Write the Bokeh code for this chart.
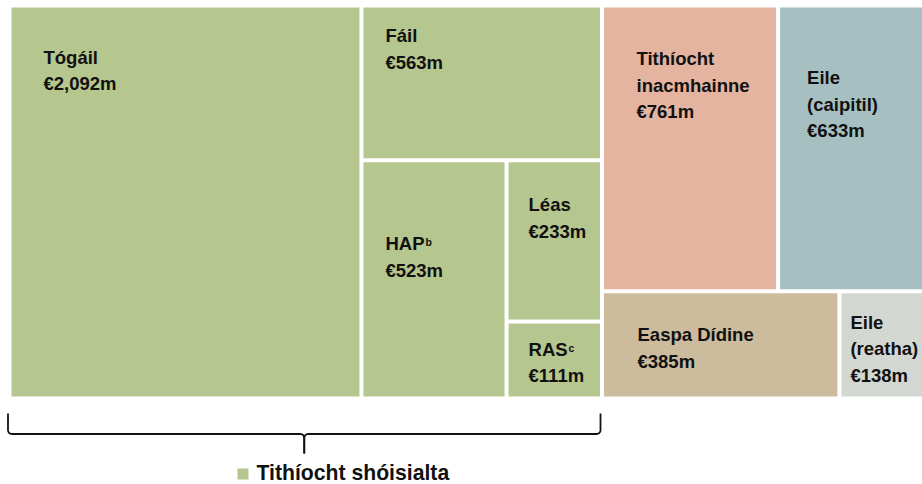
import numpy as np
from bokeh.plotting import figure
from bokeh.models import Range1d, ColumnDataSource
from bokeh.core.properties import value
from bokeh.embed import file_html
from bokeh.resources import INLINE

# ---------------- data ----------------
categories = ["Tógáil", "Fáil", "HAP", "Léas", "RAS",
              "Tithíocht inacmhainne", "Eile (caipitil)", "Easpa Dídine", "Eile (reatha)"]
label_lines = [["Tógáil"], ["Fáil"], ["HAP"], ["Léas"], ["RAS"],
               ["Tithíocht", "inacmhainne"], ["Eile", "(caipitil)"], ["Easpa Dídine"], ["Eile", "(reatha)"]]
superscripts = ["", "", "b", "", "c", "", "", "", ""]
values_m = [2092, 563, 523, 233, 111, 761, 633, 385, 138]
groups = ["social", "social", "social", "social", "social", "other", "other", "other", "other"]
colors = ["#b6c68f", "#b6c68f", "#b6c68f", "#b6c68f", "#b6c68f",
          "#e5b4a1", "#a6c0c2", "#ccbc9d", "#d3d7d2"]
legend_label = "Tithíocht shóisialta"
legend_color = "#b6c68f"

# treemap structure (slice-and-dice): "h" = side by side, "v" = stacked
TREE = ("h", [("h", [0, ("v", [1, ("h", [2, ("v", [3, 4])])])]),
              ("v", [("h", [5, 6]), ("h", [7, 8])])])

# ---------------- layout ----------------
W, H = 922, 484
FX0, FY0, FX1, FY1 = 9.0, 5.0, 924.0, 398.0
GAP = 2.0
FONT = "Liberation Sans"
FS = 18.5          # tile label font size (px)
SUP_FS = 10.5      # superscript font size
LEG_FS = 21.2      # legend font size
BASE_SHIFT = 0.34  # bokeh draws "alphabetic" text this many em lower
label_dx = [32, 22, 22, 20, 20, 32.5, 27, 33.5, 9]
label_dy = [56, 34.7, 87.7, 48.7, 31.7, 57.3, 76.3, 47.9, 35.2]
LINE_H = 26.7
SUP_DX = 40
SUP_RAISE = 4


def total(node):
    if isinstance(node, int):
        return values_m[node]
    return sum(total(k) for k in node[1])


def layout(node, x0, y0, x1, y1, out):
    if isinstance(node, int):
        out[node] = (x0, y0, x1, y1)
        return
    d, kids = node
    t = total(node)
    pos = x0 if d == "h" else y0
    for k in kids:
        frac = total(k) / t
        if d == "h":
            w = (x1 - x0) * frac
            layout(k, pos, y0, pos + w, y1, out)
        else:
            w = (y1 - y0) * frac
            layout(k, x0, pos, x1, pos + w, out)
        pos += w


rects = {}
layout(TREE, FX0, FY0, FX1, FY1, rects)
n = len(values_m)
left = [rects[i][0] + GAP for i in range(n)]
top = [rects[i][1] + GAP for i in range(n)]
right = [rects[i][2] - GAP for i in range(n)]
bottom = [rects[i][3] - GAP for i in range(n)]

p = figure(width=W, height=H, x_range=Range1d(0, W), y_range=Range1d(H, 0),
           output_backend="svg", toolbar_location=None, min_border=0,
           outline_line_color=None, background_fill_color="white")
p.axis.visible = False
p.grid.visible = False

src = ColumnDataSource(dict(left=left, right=right, top=top, bottom=bottom,
                            color=colors, cat=categories))
p.quad(left="left", right="right", top="top", bottom="bottom", source=src,
       fill_color="color", line_color=None)

# labels
tx, ty, tt = [], [], []
sx, sy, st = [], [], []
for i in range(n):
    lines = label_lines[i] + [f"€{values_m[i]:,}m"]
    x = left[i] + label_dx[i]
    y0 = top[i] + label_dy[i]
    for j, ln in enumerate(lines):
        tx.append(x)
        ty.append(y0 + j * LINE_H - BASE_SHIFT * FS)
        tt.append(ln)
    if superscripts[i]:
        sx.append(x + SUP_DX)
        sy.append(y0 - SUP_RAISE - BASE_SHIFT * SUP_FS)
        st.append(superscripts[i])

p.text(x="x", y="y", text="text", source=ColumnDataSource(dict(x=tx, y=ty, text=tt)),
       text_font=value(FONT), text_font_style="bold", text_font_size=f"{FS}px",
       text_baseline="alphabetic", text_align="left", text_color="#111111")
p.text(x="x", y="y", text="text", source=ColumnDataSource(dict(x=sx, y=sy, text=st)),
       text_font=value(FONT), text_font_style="bold", text_font_size=f"{SUP_FS}px",
       text_baseline="alphabetic", text_align="left", text_color="#111111")

# brace under the social housing group
soc = [i for i in range(n) if groups[i] == "social"]
xl = min(rects[i][0] for i in soc) - 1.5
xr = max(rects[i][2] for i in soc) - 1.5
ytop, ymid, ybot, r = 413.0, 433.5, 453.0, 4.0
xm = (xl + xr) / 2
t = np.linspace(0, np.pi / 2, 10)


def half(xe, sgn):
    # xe: outer end, sgn: +1 for left half, -1 for right half
    c1x, c1y = xe + sgn * r, ymid - r
    a1x = c1x - sgn * r * np.cos(t)
    a1y = c1y + r * np.sin(t)
    c2x, c2y = xm - sgn * r, ymid + r
    a2x = c2x + sgn * r * np.sin(t)
    a2y = c2y - r * np.cos(t)
    xs = np.concatenate([[xe], a1x, a2x, [xm]])
    ys = np.concatenate([[ytop], a1y, a2y, [ybot]])
    return xs, ys


lx, ly = half(xl, 1)
rx, ry = half(xr, -1)
p.multi_line(xs=[list(lx), list(rx)], ys=[list(ly), list(ry)],
             line_color="#111111", line_width=1.8)

# legend
LEG_X, LEG_BASE = 256.0, 479.0
p.scatter(x=[LEG_X - 13.5], y=[LEG_BASE - 5.5], marker="square", size=11,
          fill_color=legend_color, line_color=None)
p.text(x=[LEG_X], y=[LEG_BASE - BASE_SHIFT * LEG_FS], text=[legend_label],
       text_font=value(FONT), text_font_style="bold", text_font_size=f"{LEG_FS}px",
       text_baseline="alphabetic", text_color="#111111")

open("out.html", "w").write(file_html(p, INLINE))
